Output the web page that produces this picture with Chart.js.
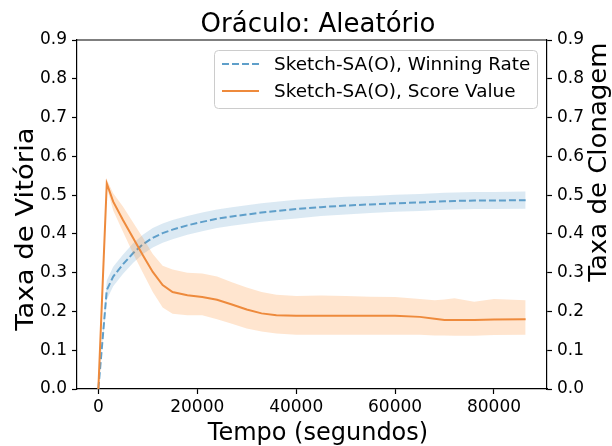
<!DOCTYPE html>
<html>
<head>
<meta charset="utf-8">
<script src="https://cdn.jsdelivr.net/npm/chart.js@4.4.1/dist/chart.umd.min.js"></script>
<style>
  body { margin: 0; background: #fff; }
  #wrap { width: 612px; height: 446px; }
</style>
</head>
<body>
<div id="wrap"><canvas id="grafico" width="612" height="446"></canvas></div>
<script>
// tempos (s) e valores
const tempo = [0, 1700, 3000, 5000, 7000, 9000, 11000, 13000, 15000, 18000, 21000, 24000, 27000, 30000,
               33000, 36000, 40000, 45000, 50000, 55000, 60000, 65000, 68000, 70000, 72000, 76000, 80000, 86400];

const vitoria    = [0, 0.255, 0.29, 0.322, 0.35, 0.373, 0.39, 0.402, 0.411, 0.422, 0.431, 0.439, 0.445, 0.45,
                    0.455, 0.459, 0.464, 0.469, 0.473, 0.476, 0.479, 0.481, 0.483, 0.484, 0.485, 0.486, 0.486, 0.487];
const vitoriaMin = [0, 0.23, 0.265, 0.297, 0.325, 0.348, 0.365, 0.377, 0.386, 0.398, 0.407, 0.415, 0.421, 0.426,
                    0.431, 0.435, 0.44, 0.446, 0.45, 0.454, 0.457, 0.459, 0.461, 0.462, 0.463, 0.464, 0.464, 0.465];
const vitoriaMax = [0, 0.28, 0.315, 0.347, 0.375, 0.398, 0.415, 0.427, 0.436, 0.446, 0.455, 0.463, 0.469, 0.474,
                    0.479, 0.483, 0.488, 0.492, 0.496, 0.498, 0.501, 0.503, 0.505, 0.506, 0.507, 0.508, 0.508, 0.509];

const score    = [0, 0.53, 0.483, 0.435, 0.39, 0.345, 0.302, 0.268, 0.25, 0.242, 0.237, 0.23, 0.218, 0.205,
                  0.195, 0.19, 0.189, 0.189, 0.189, 0.189, 0.189, 0.186, 0.181, 0.178, 0.178, 0.178, 0.179, 0.18];
const scoreMin = [0, 0.52, 0.46, 0.405, 0.35, 0.30, 0.25, 0.21, 0.194, 0.19, 0.19, 0.18, 0.168, 0.156,
                  0.148, 0.143, 0.14, 0.14, 0.14, 0.14, 0.14, 0.14, 0.138, 0.138, 0.137, 0.137, 0.139, 0.14];
const scoreMax = [0, 0.54, 0.505, 0.47, 0.43, 0.39, 0.348, 0.318, 0.308, 0.30, 0.298, 0.29, 0.275, 0.262,
                  0.25, 0.243, 0.24, 0.241, 0.24, 0.238, 0.237, 0.232, 0.229, 0.231, 0.234, 0.225, 0.232, 0.229];

const ticksX = [0, 20000, 40000, 60000, 80000];
const ticksY = [0, 0.1, 0.2, 0.3, 0.4, 0.5, 0.6, 0.7, 0.8, 0.9];

const titulo = 'Oráculo: Aleatório';
const rotuloX = 'Tempo (segundos)';
const rotuloY = 'Taxa de Vitória';
const rotuloY2 = 'Taxa de Clonagem';
const nomes = ['Sketch-SA(O), Winning Rate', 'Sketch-SA(O), Score Value'];

const AZUL = '#5f9fca';
const LARANJA = '#ee8a3c';
const FONTE = "'DejaVu Sans', sans-serif";

Chart.defaults.font.family = FONTE;
Chart.defaults.color = '#000';

const pontos = arr => tempo.map((t, i) => ({x: t, y: arr[i]}));

function faixa(arr, eixo, ordem, cor, preenche) {
    return {
        data: pontos(arr),
        yAxisID: eixo,
        order: ordem,
        borderWidth: 0,
        pointRadius: 0,
        backgroundColor: cor,
        fill: preenche ? '-1' : false,
        tension: 0
    };
}

function textoVertical(ctx, texto, x, y, esticar) {
    ctx.save();
    ctx.translate(x, y);
    ctx.rotate(-Math.PI / 2);
    ctx.scale(esticar, 1);
    ctx.textAlign = 'center';
    ctx.textBaseline = 'middle';
    ctx.fillText(texto, 0, 0);
    ctx.restore();
}

// titulo, rotulos dos eixos, moldura e legenda
const extras = {
    id: 'extras',
    afterDraw(chart) {
        const ctx = chart.ctx;
        const a = chart.chartArea;
        ctx.save();

        ctx.strokeStyle = '#000';
        ctx.lineWidth = 1.2;
        ctx.beginPath();
        ctx.moveTo(a.left, a.top);
        ctx.lineTo(a.right, a.top);
        ctx.stroke();

        ctx.fillStyle = '#000';
        ctx.font = '26px ' + FONTE;
        ctx.textAlign = 'center';
        ctx.textBaseline = 'alphabetic';
        ctx.fillText(titulo, 318, 32);

        ctx.font = '24px ' + FONTE;
        ctx.fillText(rotuloX, 318, 440);

        ctx.font = '25px ' + FONTE;
        textoVertical(ctx, rotuloY, 26, 229, 1.1);
        textoVertical(ctx, rotuloY2, 599, 162, 1.04);

        // legenda
        const lx = 214, ly = 50, lw = 323, lh = 58;
        ctx.fillStyle = 'rgba(255,255,255,0.85)';
        ctx.strokeStyle = '#cccccc';
        ctx.lineWidth = 1;
        ctx.beginPath();
        ctx.roundRect(lx + 0.5, ly + 0.5, lw, lh, 4);
        ctx.fill();
        ctx.stroke();

        const cores = [AZUL, LARANJA];
        const tracos = [[7, 3], []];
        ctx.font = '18.4px ' + FONTE;
        ctx.textAlign = 'left';
        ctx.textBaseline = 'middle';
        nomes.forEach((nome, i) => {
            const y = 64 + i * 27;
            ctx.strokeStyle = cores[i];
            ctx.lineWidth = 2;
            ctx.setLineDash(tracos[i]);
            ctx.beginPath();
            ctx.moveTo(222, y);
            ctx.lineTo(259, y);
            ctx.stroke();
            ctx.setLineDash([]);
            ctx.fillStyle = '#000';
            ctx.fillText(nome, 274, y + 1);
        });
        ctx.restore();
    }
};

const ctx = document.getElementById('grafico').getContext('2d');

new Chart(ctx, {
    type: 'line',
    data: {
        datasets: [
            faixa(vitoriaMin, 'y', 6, 'rgba(31,119,180,0.16)', false),
            faixa(vitoriaMax, 'y', 5, 'rgba(31,119,180,0.16)', true),
            {
                label: nomes[0],
                data: pontos(vitoria),
                yAxisID: 'y',
                order: 4,
                borderColor: AZUL,
                borderWidth: 2,
                borderDash: [7, 3],
                pointRadius: 0,
                fill: false,
                tension: 0
            },
            faixa(scoreMin, 'y2', 3, 'rgba(255,127,14,0.2)', false),
            faixa(scoreMax, 'y2', 2, 'rgba(255,127,14,0.2)', true),
            {
                label: nomes[1],
                data: pontos(score),
                yAxisID: 'y2',
                order: 1,
                borderColor: LARANJA,
                borderWidth: 2,
                pointRadius: 0,
                fill: false,
                tension: 0
            }
        ]
    },
    options: {
        responsive: false,
        animation: false,
        layout: { padding: { top: 40 } },
        plugins: {
            legend: { display: false },
            title: { display: false },
            tooltip: { enabled: false }
        },
        scales: {
            x: {
                type: 'linear',
                min: -4320,
                max: 90720,
                afterBuildTicks: s => { s.ticks = ticksX.map(v => ({value: v})); },
                afterFit: s => { s.height = 57; },
                ticks: { font: { size: 17 }, padding: 3, callback: v => String(v), maxRotation: 0 },
                grid: { drawOnChartArea: false, tickLength: 5, color: '#000', tickWidth: 1.2 },
                border: { color: '#000', width: 1.2 }
            },
            y: {
                position: 'left',
                min: 0,
                max: 0.9,
                afterBuildTicks: s => { s.ticks = ticksY.map(v => ({value: v})); },
                afterFit: s => { s.width = 77; },
                ticks: { font: { size: 17 }, padding: 5, callback: v => v.toFixed(1) },
                grid: { drawOnChartArea: false, tickLength: 5, color: '#000', tickWidth: 1.2 },
                border: { color: '#000', width: 1.2 }
            },
            y2: {
                position: 'right',
                min: 0,
                max: 0.9,
                afterBuildTicks: s => { s.ticks = ticksY.map(v => ({value: v})); },
                afterFit: s => { s.width = 65; },
                ticks: { font: { size: 17 }, padding: 5, callback: v => v.toFixed(1) },
                grid: { drawOnChartArea: false, tickLength: 5, color: '#000', tickWidth: 1.2 },
                border: { color: '#000', width: 1.2 }
            }
        }
    },
    plugins: [extras]
});
</script>
</body>
</html>
